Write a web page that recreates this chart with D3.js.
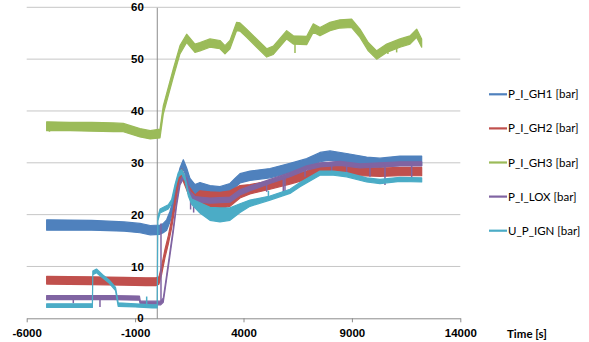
<!DOCTYPE html>
<html>
<head>
<meta charset="utf-8">
<script src="https://cdn.jsdelivr.net/npm/d3@7"></script>
<style>
  body { margin: 0; background: #fff; }
  svg { font-family: "Lato", "Open Sans", sans-serif; }
  .tick-label { font-size: 11.5px; font-weight: bold; fill: #000; }
  .legend text { font-size: 11.5px; fill: #000; }
</style>
</head>
<body>
<script>
var width = 589,
    height = 342;

// tick labels
var xTicks = [-6000, -1000, 4000, 9000, 14000];
var yTicks = [0, 10, 20, 30, 40, 50, 60];
var xTitle = "Time [s]";

// series names, in legend order
var names = ["P_I_GH1 [bar]", "P_I_GH2 [bar]", "P_I_GH3 [bar]", "P_I_LOX [bar]", "U_P_IGN [bar]"];
var colors = ["#4f81bd", "#c0504d", "#9bbb59", "#8064a2", "#4bacc6"];

// each point: [time s, low, high] -> envelope of the noisy signal
var gh1 = [
  [-5080, 17.0, 19.0], [-3000, 17.0, 18.9], [-1500, 16.8, 18.6], [-775, 16.5, 18.3],
  [-300, 16.1, 17.9], [150, 16.2, 18.0], [300, 16.5, 18.3], [455, 17.0, 19.0],
  [608, 18.6, 20.6], [761, 21.0, 23.0], [918, 24.4, 26.4], [1070, 27.0, 29.0],
  [1224, 28.8, 30.6], [1378, 27.0, 29.0], [1531, 25.0, 27.0], [1762, 23.8, 25.8],
  [1993, 24.4, 26.2], [2454, 23.8, 25.6], [2915, 23.7, 25.4], [3376, 24.2, 26.0],
  [3607, 25.2, 27.0], [3838, 26.1, 27.9], [4299, 26.6, 28.4], [5222, 27.1, 28.9],
  [6144, 28.1, 29.9], [6914, 29.0, 30.8], [7528, 30.2, 32.0], [7989, 30.5, 32.3],
  [8758, 30.0, 31.8], [9681, 29.3, 31.1], [10295, 29.1, 30.9], [11218, 29.5, 31.3],
  [12218, 29.5, 31.3]
];

var gh2 = [
  [-5080, 6.6, 8.1], [-3000, 6.5, 8.0], [-1500, 6.4, 7.9], [-500, 6.3, 7.8],
  [-50, 6.3, 7.8], [100, 6.6, 8.0], [225, 8.5, 10.1], [378, 11.7, 13.3],
  [530, 14.3, 15.9], [687, 17.5, 19.1], [840, 21.4, 23.0], [992, 25.3, 26.9],
  [1147, 27.2, 28.8], [1300, 25.6, 27.2], [1455, 24.0, 25.6], [1762, 22.0, 23.8],
  [1993, 21.7, 24.6], [2454, 21.3, 24.4], [2915, 21.2, 24.3], [3376, 21.6, 24.6],
  [3838, 23.2, 25.6], [4299, 24.0, 25.8], [5222, 24.9, 26.5], [6144, 25.9, 27.5],
  [6914, 26.8, 28.4], [7528, 28.2, 29.8], [8450, 28.2, 29.8], [9373, 27.5, 29.1],
  [10295, 27.4, 29.0], [11218, 27.5, 29.1], [12218, 27.5, 29.1]
];

var gh3 = [
  [-5080, 36.2, 37.9], [-4000, 36.2, 37.8], [-3000, 36.1, 37.8], [-2000, 36.0, 37.7],
  [-1545, 36.0, 37.6], [-775, 35.0, 36.6], [-300, 34.6, 36.2], [148, 34.8, 36.5],
  [300, 39.4, 41.0], [761, 46.5, 48.1], [1070, 51.0, 52.6], [1378, 53.2, 54.8],
  [1762, 51.3, 52.9], [1993, 51.6, 53.2], [2454, 52.3, 53.9], [2915, 52.0, 53.6],
  [3146, 51.0, 52.6], [3376, 52.0, 53.6], [3684, 55.5, 57.1], [3838, 55.4, 57.0],
  [4146, 54.2, 55.8], [4607, 52.3, 53.9], [5069, 50.4, 52.0], [5376, 50.9, 52.5],
  [5991, 53.9, 55.5], [6298, 52.9, 54.5], [6914, 52.8, 54.4], [7219, 55.2, 56.8],
  [7528, 54.5, 56.1], [7989, 55.5, 57.1], [8450, 56.0, 57.6], [8989, 56.1, 57.7],
  [9373, 54.2, 55.8], [9755, 51.6, 53.2], [10143, 50.0, 51.6], [10604, 51.3, 52.9],
  [11218, 52.3, 53.9], [11680, 52.9, 54.5], [11988, 54.2, 55.8], [12218, 52.3, 53.9]
];

var lox = [
  [-5080, 3.6, 4.4], [-4000, 3.6, 4.4], [-2000, 3.6, 4.4], [-800, 3.5, 4.3],
  [-760, 2.6, 3.3], [180, 2.6, 3.3], [300, 3.1, 3.9], [455, 7.6, 8.4],
  [608, 12.1, 12.9], [761, 16.6, 17.4], [918, 21.8, 22.6], [1070, 25.7, 26.5],
  [1224, 26.9, 27.7], [1378, 26.3, 27.1], [1531, 23.7, 24.5], [1762, 22.5, 23.5],
  [2454, 22.2, 23.2], [3376, 22.4, 23.4], [3838, 23.8, 24.8], [4299, 24.6, 25.5],
  [5222, 26.0, 26.8], [6144, 27.3, 28.1], [6914, 28.6, 29.4], [7528, 29.2, 30.0],
  [8450, 29.5, 30.3], [9373, 29.0, 29.8], [10295, 29.2, 30.0], [11218, 29.4, 30.2],
  [12218, 29.4, 30.2]
];

var ign = [
  [-5080, 2.1, 2.8], [-2970, 2.1, 2.8], [-2950, 8.4, 9.1], [-2780, 8.8, 9.5],
  [-2500, 7.8, 8.4], [-2200, 6.8, 7.4], [-1930, 5.5, 6.1], [-1900, 5.3, 5.9],
  [-1780, 2.3, 3.0], [-1000, 2.2, 2.8], [-200, 2.0, 2.6], [20, 2.0, 2.6],
  [50, 18.8, 19.6], [150, 20.3, 21.1], [530, 21.1, 21.9], [687, 22.1, 22.9],
  [840, 25.0, 25.8], [992, 27.3, 28.1], [1147, 27.9, 28.7], [1300, 26.6, 27.4],
  [1455, 23.6, 24.4], [1609, 22.0, 23.0], [1993, 20.3, 22.3], [2454, 18.9, 21.4],
  [2915, 18.6, 21.3], [3376, 18.9, 21.3], [3838, 20.4, 22.1], [4299, 21.6, 22.8],
  [5222, 22.8, 23.6], [6144, 24.1, 24.9], [6605, 25.4, 26.2], [7528, 27.6, 28.4],
  [8143, 27.6, 28.4], [8758, 27.3, 28.1], [9681, 26.3, 27.1], [10295, 26.0, 26.8],
  [11218, 26.4, 27.2], [12218, 26.3, 27.1]
];

// single spikes: [time s, from, to]
var gh3Spikes = [[6375, 53.5, 51.2], [10660, 52.3, 51.0], [11064, 53.0, 51.3], [-4950, 37.0, 36.0]];
var loxSpikes = [
  [-3850, 4.0, 2.9], [-2620, 4.0, 2.2], [194, 3.0, 18.3], [1560, 24.0, 21.0],
  [1700, 23.0, 20.4], [5069, 26.4, 24.4], [5836, 27.0, 23.8], [5913, 27.0, 23.8],
  [6836, 28.5, 27.3], [8067, 29.8, 28.3], [8758, 29.8, 27.7], [9834, 29.5, 27.3],
  [10526, 29.6, 25.7], [11757, 29.8, 27.0]
];
var ignSpikes = [[-466, 2.3, 4.2], [5150, 23.2, 24.6]];

var series = [gh1, gh2, gh3, lox, ign];
var spikes = [[], [], gh3Spikes, loxSpikes, ignSpikes];

var x = d3.scaleLinear().domain([-6000, 14000]).range([26.7, 460.3]);
var y = d3.scaleLinear().domain([0, 60]).range([318.3, 7.3]);

var svg = d3.select("body").append("svg").attr("width", width).attr("height", height);

// gridlines
svg.append("g").selectAll("line")
    .data(yTicks.filter(function(d){ return d > 0; }))
  .enter().append("line")
    .attr("x1", x(-6000)).attr("x2", x(14000))
    .attr("y1", function(d){ return y(d); }).attr("y2", function(d){ return y(d); })
    .attr("stroke", "#c6c6c6").attr("stroke-width", 1);

// x axis along y = 0
var xAxis = svg.append("g")
    .attr("transform", "translate(0," + y(0) + ")")
    .call(d3.axisBottom(x).tickValues(xTicks).tickSize(4).tickSizeOuter(0)
      .tickFormat(function(d){ return String(d); }));
xAxis.select(".domain").attr("stroke", "#8c8c8c");
xAxis.selectAll(".tick line").attr("stroke", "#8c8c8c");
xAxis.selectAll(".tick text").attr("class", "tick-label").attr("dy", null).attr("y", 19);

// y axis at time 0
var yAxis = svg.append("g")
    .attr("transform", "translate(" + x(0) + ",0)")
    .call(d3.axisLeft(y).tickValues(yTicks).tickSize(0).tickPadding(13));
yAxis.select(".domain").attr("stroke", "#8c8c8c");
yAxis.selectAll(".tick text").attr("class", "tick-label");

svg.append("text")
    .attr("class", "tick-label")
    .attr("x", 507).attr("y", 338)
    .text(xTitle);

var area = d3.area()
    .x(function(d){ return x(d[0]); })
    .y0(function(d){ return y(d[1]); })
    .y1(function(d){ return y(d[2]); });

var plot = svg.append("g");

series.forEach(function(s, i){
  plot.append("path")
      .datum(s)
      .attr("d", area)
      .attr("fill", colors[i])
      .attr("stroke", colors[i])
      .attr("stroke-width", 1.2)
      .attr("stroke-linejoin", "round");

  plot.append("g").selectAll("line")
      .data(spikes[i])
    .enter().append("line")
      .attr("x1", function(d){ return x(d[0]); })
      .attr("x2", function(d){ return x(d[0]); })
      .attr("y1", function(d){ return y(d[1]); })
      .attr("y2", function(d){ return y(d[2]); })
      .attr("stroke", colors[i])
      .attr("stroke-width", 1.5);
});

// legend
var legend = svg.append("g").attr("class", "legend")
    .selectAll("g")
    .data(names)
  .enter().append("g")
    .attr("transform", function(d, i){ return "translate(489," + (94.3 + i * 34.1) + ")"; });

legend.append("line")
    .attr("x1", 0).attr("x2", 18)
    .attr("stroke", function(d, i){ return colors[i]; })
    .attr("stroke-width", 2.2);

legend.append("text")
    .attr("x", 19)
    .attr("dy", "0.35em")
    .text(function(d){ return d; });
</script>
</body>
</html>
